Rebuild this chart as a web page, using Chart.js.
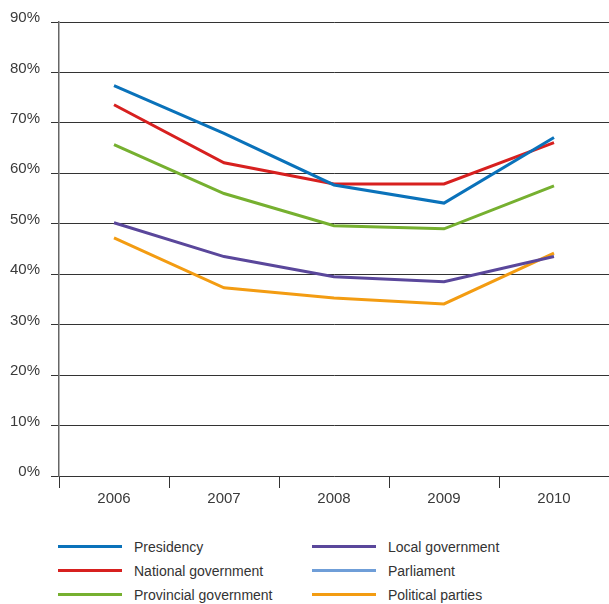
<!DOCTYPE html>
<html>
<head>
<meta charset="utf-8">
<script src="https://cdn.jsdelivr.net/npm/chart.js@4/dist/chart.umd.min.js"></script>
<style>
  body { margin: 0; background: #fff; font-family: "Liberation Sans", Arial, sans-serif; }
  #wrap { position: relative; width: 609px; height: 520px; }
  #legend { position: relative; width: 609px; height: 84px; color: #333; font-size: 14px; }
  .item { position: absolute; height: 20px; line-height: 20px; }
  .item span.ln { position: absolute; left: 0; top: 8px; width: 64px; height: 3px; }
  .item span.tx { position: absolute; left: 76px; white-space: nowrap; }
</style>
</head>
<body>
<div id="wrap"><canvas id="chart" width="609" height="520"></canvas></div>
<div id="legend"></div>
<script>
const years = ["2006", "2007", "2008", "2009", "2010"];
const presidency = [77.4, 67.9, 57.7, 54.1, 67.1];
const nationalGov = [73.6, 62.1, 57.9, 57.9, 66.1];
const provincialGov = [65.7, 56.0, 49.6, 49.0, 57.5];
const localGov = [50.2, 43.5, 39.5, 38.5, 43.5];
const parliament = [null, null, null, null, null];
const politicalParties = [47.2, 37.3, 35.3, 34.1, 44.2];

const series = [
  { label: "Presidency", data: presidency, color: "#0a72ba" },
  { label: "National government", data: nationalGov, color: "#d7201f" },
  { label: "Provincial government", data: provincialGov, color: "#76b030" },
  { label: "Local government", data: localGov, color: "#5a479b" },
  { label: "Parliament", data: parliament, color: "#6f9ed8" },
  { label: "Political parties", data: politicalParties, color: "#f39c12" },
];

const font = { family: "'Liberation Sans', Arial, sans-serif", size: 15 };

new Chart(document.getElementById("chart"), {
  type: "line",
  data: {
    labels: years,
    datasets: series.map(s => ({
      label: s.label,
      data: s.data,
      borderColor: s.color,
      backgroundColor: s.color,
      borderWidth: 3,
      pointRadius: 0,
      tension: 0,
    })),
  },
  options: {
    responsive: false,
    animation: false,
    layout: { padding: { top: 22, right: 0, left: 0, bottom: 0 } },
    plugins: { legend: { display: false }, tooltip: { enabled: false } },
    scales: {
      x: {
        offset: true,
        grid: { offset: true, drawOnChartArea: false, color: "#333", tickLength: 12, lineWidth: 1 },
        border: { display: false },
        ticks: { color: "#3a3a3a", font, padding: 2, maxRotation: 0 },
        afterFit: (s) => { s.height = 44; },
      },
      y: {
        min: 0,
        max: 90,
        grid: { color: "#333", tickLength: 8, lineWidth: 1 },
        border: { color: "#666", width: 1.5 },
        ticks: {
          stepSize: 10,
          color: "#3a3a3a",
          font,
          padding: 11,
          labelOffset: -4,
          callback: (v) => v + "%",
        },
        afterFit: (s) => { s.width = 59; },
      },
    },
  },
});

// two-column legend, filled column by column
const legend = document.getElementById("legend");
series.forEach((s, i) => {
  const col = Math.floor(i / 3), row = i % 3;
  const el = document.createElement("div");
  el.className = "item";
  el.style.left = (col === 0 ? 58 : 312) + "px";
  el.style.top = (17 + row * 24) + "px";
  el.innerHTML = `<span class="ln" style="background:${s.color}"></span><span class="tx">${s.label}</span>`;
  legend.appendChild(el);
});
</script>
</body>
</html>
